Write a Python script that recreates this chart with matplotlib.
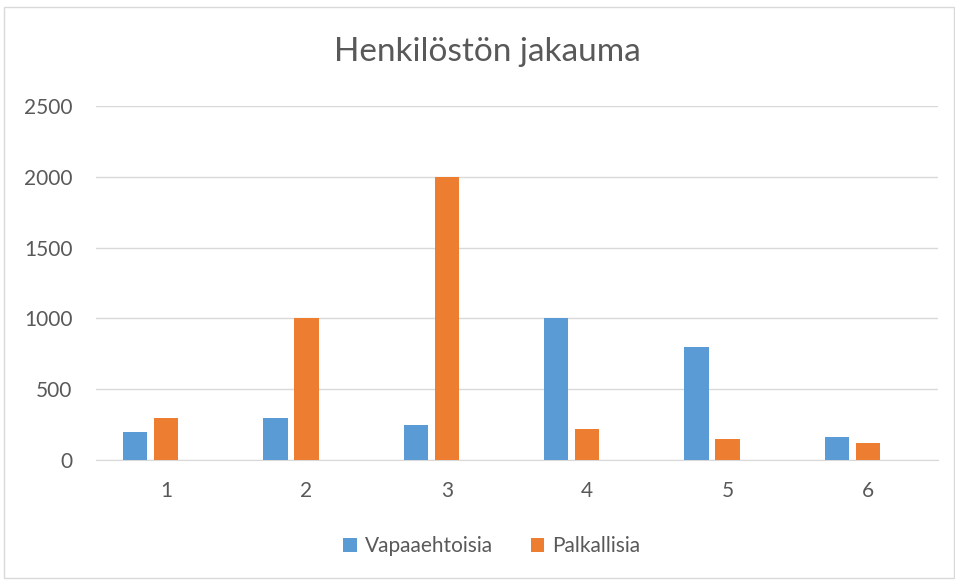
import matplotlib.pyplot as plt
import numpy as np
from matplotlib.patches import Rectangle

categories = ["1", "2", "3", "4", "5", "6"]
vapaaehtoisia = [200, 300, 250, 1000, 800, 160]
palkallisia = [300, 1000, 2000, 220, 150, 120]

blue = "#5B9BD5"
orange = "#ED7D31"
text_gray = "#595959"

plt.rcParams['font.family'] = ['Lato', 'DejaVu Sans']

fig = plt.figure(figsize=(9.55, 5.8), dpi=100)
fig.patches.append(Rectangle((4 / 955, 0.003), 950 / 955, 1 - 7 / 580 - 0.003,
                             transform=fig.transFigure, fill=False,
                             edgecolor="#D9D9D9", linewidth=1))
ax = fig.add_axes([96 / 955, 1 - 460 / 580, (938 - 96) / 955, (460 - 106) / 580])

# Excel layout: a third empty series sits to the right, so orange is centred on the tick
x = np.arange(len(categories))
w = 0.172
ax.bar(x - 0.221, vapaaehtoisia, w, color=blue, label="Vapaaehtoisia", zorder=3)
ax.bar(x, palkallisia, w, color=orange, label="Palkallisia", zorder=3)

ax.set_xlim(-0.5, len(categories) - 0.5)
ax.set_ylim(0, 2500)
ax.set_yticks(range(0, 2501, 500))
ax.set_xticks(x)
ax.set_xticklabels(categories)
ax.grid(axis="y", color="#D9D9D9", linewidth=1, zorder=0)
for s in ["top", "right", "left"]:
    ax.spines[s].set_visible(False)
ax.spines["bottom"].set_color("#D9D9D9")
ax.tick_params(axis="both", length=0, labelsize=15, colors=text_gray)
ax.tick_params(axis="x", pad=15)
ax.tick_params(axis="y", pad=17)

fig.text(487 / 955, 1 - 52 / 580, "Henkilöstön jakauma", ha="center", va="center",
         fontsize=24, color=text_gray)

fig.legend(loc="center", bbox_to_anchor=(0.515, 1 - 546 / 580), ncol=2,
           frameon=False, fontsize=15, labelcolor=text_gray,
           handlelength=0.65, handleheight=0.65, handletextpad=0.4, columnspacing=1.8)

fig.savefig("out.png", dpi=100)
